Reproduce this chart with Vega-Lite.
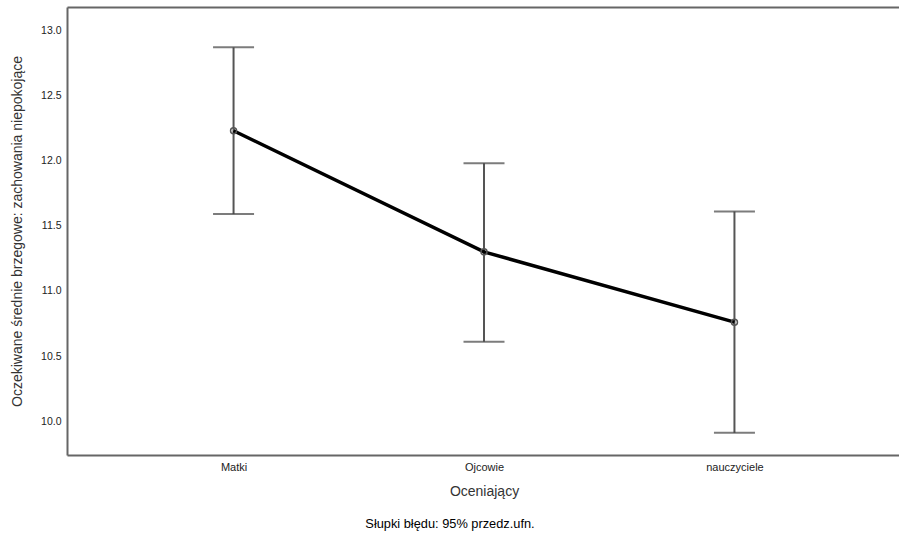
{
  "$schema": "https://vega.github.io/schema/vega-lite/v6.json",
  "autosize": "none",
  "width": 834,
  "height": 448,
  "padding": {"left": 67, "top": 7, "right": 0, "bottom": 81},
  "background": "white",
  "config": {
    "view": {"stroke": null},
    "font": "Liberation Sans"
  },
  "title": {
    "text": "Słupki błędu: 95% przedz.ufn.",
    "orient": "bottom",
    "anchor": "middle",
    "fontSize": 12.8,
    "fontWeight": "normal",
    "color": "#000000",
    "offset": 20,
    "dx": -34
  },
  "data": {
    "values": [
      {"grupa": "Matki", "srednia": 12.23, "dolna": 11.59, "gorna": 12.87},
      {"grupa": "Ojcowie", "srednia": 11.30, "dolna": 10.61, "gorna": 11.98},
      {"grupa": "nauczyciele", "srednia": 10.76, "dolna": 9.91, "gorna": 11.61}
    ]
  },
  "layer": [
    {
      "mark": {"type": "rule", "color": "#555555", "strokeWidth": 2},
      "encoding": {
        "x": {
          "field": "grupa",
          "type": "nominal",
          "sort": null,
          "scale": {"type": "point", "padding": 0.665},
          "axis": {
            "orient": "bottom",
            "title": "Oceniający",
            "titleFontSize": 14,
            "titleFontWeight": "normal",
            "titleColor": "#333333",
            "titlePadding": 12,
            "labelAngle": 0,
            "labelFontSize": 11,
            "labelColor": "#222222",
            "labelPadding": 6,
            "ticks": false,
            "domain": true,
            "domainColor": "#666666",
            "domainWidth": 2,
            "grid": false
          }
        },
        "y": {
          "field": "dolna",
          "type": "quantitative",
          "scale": {"domain": [9.74, 13.18], "nice": false, "zero": false},
          "axis": {
            "title": "Oczekiwane średnie brzegowe: zachowania niepokojące",
            "titleFontSize": 14,
            "titleFontWeight": "normal",
            "titleColor": "#333333",
            "titlePadding": 16,
            "values": [10.0, 10.5, 11.0, 11.5, 12.0, 12.5, 13.0],
            "format": ".1f",
            "labelFontSize": 10.5,
            "labelColor": "#222222",
            "labelPadding": 6,
            "ticks": false,
            "domain": true,
            "domainColor": "#666666",
            "domainWidth": 2,
            "grid": false
          }
        },
        "y2": {"field": "gorna"}
      }
    },
    {
      "mark": {"type": "tick", "color": "#444444", "thickness": 2, "size": 41},
      "encoding": {
        "x": {"field": "grupa", "type": "nominal", "sort": null, "axis": null},
        "y": {"field": "dolna", "type": "quantitative"}
      }
    },
    {
      "mark": {"type": "tick", "color": "#444444", "thickness": 2, "size": 41},
      "encoding": {
        "x": {"field": "grupa", "type": "nominal", "sort": null, "axis": null},
        "y": {"field": "gorna", "type": "quantitative"}
      }
    },
    {
      "mark": {"type": "line", "color": "#000000", "strokeWidth": 3.5},
      "encoding": {
        "x": {"field": "grupa", "type": "nominal", "sort": null, "axis": null},
        "y": {"field": "srednia", "type": "quantitative"}
      }
    },
    {
      "mark": {"type": "point", "shape": "circle", "filled": false, "color": "#555555", "strokeWidth": 1.5, "size": 36, "opacity": 1},
      "encoding": {
        "x": {
          "field": "grupa",
          "type": "nominal",
          "sort": null,
          "axis": {
            "orient": "top",
            "title": null,
            "labels": false,
            "labelOpacity": 0,
            "ticks": false,
            "grid": false,
            "domain": true,
            "domainColor": "#666666",
            "domainWidth": 2
          }
        },
        "y": {"field": "srednia", "type": "quantitative"}
      }
    }
  ],
  "resolve": {"axis": {"x": "independent"}}
}
